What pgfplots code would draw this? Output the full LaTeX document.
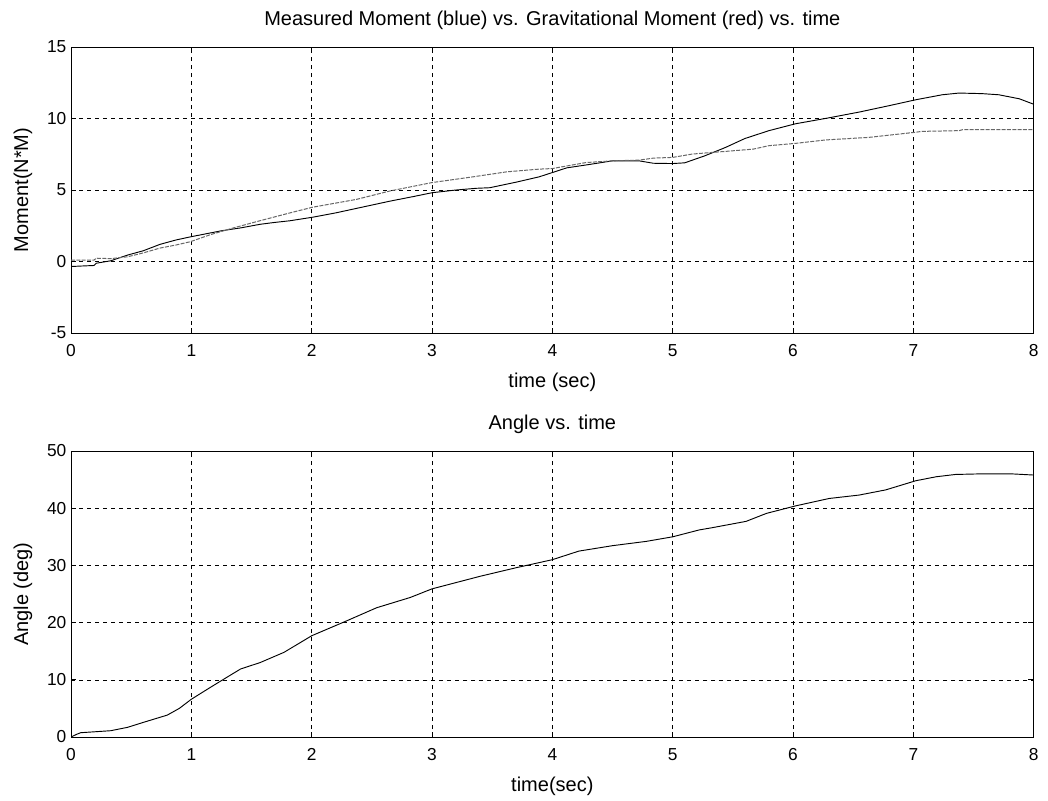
\documentclass[border=0pt]{standalone}
\usepackage{fontspec}
\setmainfont{Liberation Sans}
\usepackage{pgfplots}
\usepackage{pgfplotstable}
\pgfplotsset{compat=1.18}

\pgfplotstableread{
t v
0 -0.35
0.13 -0.3
0.19 -0.28
0.21 -0.12
0.33 0.05
0.47 0.45
0.6 0.75
0.74 1.2
0.87 1.5
0.99 1.72
1.13 1.95
1.25 2.15
1.41 2.35
1.57 2.6
1.68 2.72
1.82 2.85
2.01 3.1
2.2 3.4
2.37 3.71
2.65 4.22
2.85 4.55
3.0 4.81
3.2 5.0
3.37 5.12
3.48 5.16
3.7 5.55
3.89 5.92
4.0 6.22
4.12 6.55
4.28 6.75
4.5 7.04
4.72 7.04
4.84 6.87
5.0 6.85
5.1 6.9
5.27 7.4
5.44 7.98
5.6 8.6
5.8 9.15
6.02 9.63
6.3 10.05
6.55 10.45
6.8 10.9
7.02 11.31
7.24 11.66
7.38 11.78
7.57 11.74
7.71 11.66
7.88 11.38
8.0 11.0
}\measured

\pgfplotstableread{
t v
0 0.09
0.19 0.09
0.21 0.23
0.33 0.2
0.47 0.33
0.6 0.6
0.74 0.94
0.87 1.15
0.99 1.38
1.16 1.88
1.35 2.35
1.57 2.85
1.82 3.4
2.01 3.8
2.37 4.34
2.65 4.93
3.0 5.52
3.34 5.92
3.62 6.27
3.89 6.46
4.0 6.5
4.28 6.92
4.5 7.04
4.72 7.09
4.84 7.23
5.0 7.28
5.16 7.51
5.33 7.63
5.44 7.7
5.67 7.86
5.8 8.1
6.02 8.26
6.27 8.5
6.63 8.68
7.02 9.04
7.07 9.1
7.38 9.15
7.41 9.22
8.0 9.22
}\gravity

\pgfplotstableread{
t a
0 0
0.05 0.5
0.08 0.75
0.33 1.1
0.47 1.69
0.6 2.55
0.8 3.83
0.9 5.0
1.0 6.6
1.16 8.7
1.3 10.5
1.41 11.9
1.57 13.0
1.77 14.8
2.0 17.7
2.29 20.3
2.54 22.6
2.82 24.4
3.0 25.9
3.4 28.1
3.7 29.6
4.0 31.0
4.22 32.5
4.5 33.45
4.78 34.2
5.0 35.0
5.22 36.2
5.33 36.6
5.61 37.7
5.78 39.1
6.02 40.4
6.3 41.7
6.55 42.3
6.77 43.2
7.02 44.8
7.19 45.5
7.35 45.9
7.55 46.0
7.82 46.0
8.0 45.8
}\angle

\begin{document}
\begin{tikzpicture}
\pgfplotsset{
  every axis title shift=0pt,
  mlab/.style={
    scale only axis, width=722pt, height=214.5pt,
    xmin=0, xmax=8, xtick={0,1,...,8},
    grid=major,
    major grid style={black, line width=0.45pt, dash pattern=on 3pt off 3pt},
    axis line style={black, line width=0.6pt},
    tick align=inside, major tick length=4pt,
    tick style={black, line width=0.5pt},
    ticklabel style={font=\fontsize{13}{15}\selectfont},
    xticklabel style={yshift=-5pt},
    /pgf/number format/assume math mode=true,
    xlabel style={font=\fontsize{15}{17}\selectfont, at={(axis description cs:0.5,0)}, anchor=center, yshift=-37pt},
    ylabel style={font=\fontsize{15}{17}\selectfont, at={(axis description cs:-0.0499,0.5)}, anchor=center},
    title style={font=\fontsize{15}{17}\selectfont, at={(axis description cs:0.5,1)}, anchor=center, yshift=20pt},
    anchor=north west,
  }
}
\begin{axis}[mlab, at={(53.25pt,-35.25pt)},
  ymin=-5, ymax=15, ytick={-5,0,5,10,15},
  xlabel={time (sec)}, ylabel={Moment(N*M)},
  title={Measured Moment (blue) vs. Gravitational Moment (red) vs. time}]
\addplot[black, line width=0.7pt] table[x=t,y=v] {\measured};
\addplot[black!60, line width=0.75pt, dash pattern=on 3pt off 1pt] table[x=t,y=v] {\gravity};
\end{axis}
\begin{axis}[mlab, at={(53.25pt,-338.25pt)},
  ymin=0, ymax=50, ytick={0,10,...,50},
  xlabel={time(sec)}, ylabel={Angle (deg)},
  title={Angle vs. time}]
\addplot[black, line width=0.7pt] table[x=t,y=a] {\angle};
\end{axis}
\pgfresetboundingbox
\useasboundingbox (0,0) rectangle (786pt,-600pt);
\end{tikzpicture}
\end{document}
